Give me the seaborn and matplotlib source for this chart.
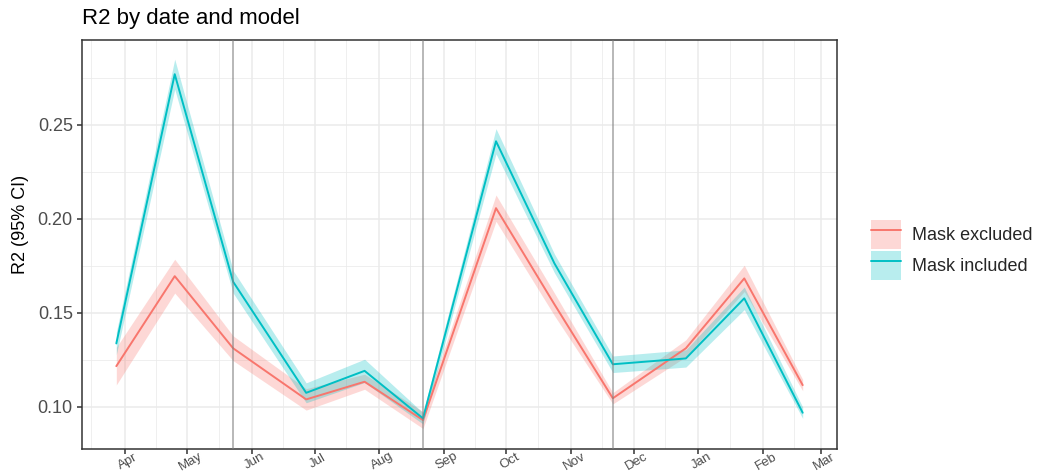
import matplotlib
matplotlib.use("Agg")
import matplotlib.pyplot as plt
import matplotlib.dates as mdates
from matplotlib.patches import Patch
from matplotlib.lines import Line2D
from matplotlib.ticker import FixedLocator, FuncFormatter
import numpy as np
import pandas as pd
import seaborn as sns

# ---- data ----
dates = ["2020-03-28", "2020-04-25", "2020-05-23", "2020-06-27", "2020-07-25", "2020-08-22",
         "2020-09-26", "2020-10-24", "2020-11-21", "2020-12-26", "2021-01-23", "2021-02-20"]
models = ["Mask excluded", "Mask included"]
r2_excluded = [0.1216, 0.1695, 0.1311, 0.1039, 0.1133, 0.0929,
               0.2057, 0.1545, 0.1045, 0.1311, 0.1683, 0.1115]
ci_excluded = [0.0100, 0.0090, 0.0066, 0.0057, 0.0040, 0.0045,
               0.0070, 0.0060, 0.0030, 0.0045, 0.0070, 0.0030]
r2_included = [0.1337, 0.2770, 0.1665, 0.1074, 0.1191, 0.0938,
               0.2413, 0.1763, 0.1226, 0.1257, 0.1577, 0.0968]
ci_included = [0.0060, 0.0080, 0.0060, 0.0053, 0.0062, 0.0030,
               0.0067, 0.0050, 0.0044, 0.0046, 0.0060, 0.0030]
vline_dates = ["2020-05-23", "2020-08-22", "2020-11-21"]
y_ticks = [0.10, 0.15, 0.20, 0.25]
colors = {"Mask excluded": "#F8766D", "Mask included": "#00BFC4"}

frames = []
for m, v, c in [(models[0], r2_excluded, ci_excluded), (models[1], r2_included, ci_included)]:
    v = np.array(v); c = np.array(c)
    frames.append(pd.DataFrame({"date": pd.to_datetime(dates), "r2": v,
                                "lo": v - c, "hi": v + c, "model": m}))
df = pd.concat(frames, ignore_index=True)

sns.set_theme(style="white")
plt.rcParams["font.family"] = ["Liberation Sans", "DejaVu Sans"]

fig = plt.figure(figsize=(10.37, 4.75), dpi=100)
ax = fig.add_axes([82 / 1037, 1 - 449 / 475, (837 - 82) / 1037, (449 - 40) / 475])

# grid
ax.set_axisbelow(True)
ax.grid(which="major", color="#EBEBEB", linewidth=1.1)
ax.grid(which="minor", color="#EBEBEB", linewidth=0.55)

for m in models:
    sub = df[df["model"] == m]
    ax.fill_between(sub["date"], sub["lo"], sub["hi"], color=colors[m], alpha=0.28, linewidth=0)

sns.lineplot(data=df, x="date", y="r2", hue="model", palette=colors, ax=ax,
             legend=False, linewidth=1.4)

for d in vline_dates:
    ax.axvline(pd.Timestamp(d), color="#7F7F7F", alpha=0.7, linewidth=1.1, zorder=3)

# axes limits with ggplot-like expansion
d0 = pd.Timestamp(dates[0]); d1 = pd.Timestamp(dates[-1])
span = d1 - d0
ax.set_xlim(d0 - span * 0.05, d1 + span * 0.05)
ax.set_ylim(0.0775, 0.2952)

ax.xaxis.set_major_locator(mdates.MonthLocator())
ax.xaxis.set_major_formatter(mdates.DateFormatter("%b"))
ax.xaxis.set_minor_locator(mdates.MonthLocator(bymonthday=16))
ax.yaxis.set_major_locator(FixedLocator(y_ticks))
ax.yaxis.set_major_formatter(FuncFormatter(lambda v, p: f"{v:.2f}"))
ax.yaxis.set_minor_locator(FixedLocator([0.125, 0.175, 0.225, 0.275]))

ax.tick_params(axis="both", which="major", length=3.6, width=1.1, color="#333333",
               direction="out", bottom=True, left=True)
ax.tick_params(axis="both", which="minor", length=0)
ax.tick_params(axis="y", labelsize=13, labelcolor="#4D4D4D", pad=3)
ax.tick_params(axis="x", labelsize=9.5, labelcolor="#4D4D4D", pad=1.5)
for lab in ax.get_xticklabels():
    lab.set_rotation(30)
    lab.set_rotation_mode("anchor")
    lab.set_ha("center")
    lab.set_va("top")

for s in ax.spines.values():
    s.set_color("#333333")
    s.set_linewidth(1.1)

ax.set_xlabel("")
ax.set_ylabel("R2 (95% CI)", fontsize=13, color="black")
ax.yaxis.set_label_coords(-0.07, 0.548)

fig.text(82 / 1037, 1 - 24 / 475, "R2 by date and model", fontsize=16,
         ha="left", va="baseline", color="black")

handles = [(Patch(facecolor=colors[m], alpha=0.28, edgecolor="none"),
            Line2D([], [], color=colors[m], linewidth=1.4)) for m in models]
leg = fig.legend(handles, models, loc="center left",
                 bbox_to_anchor=(867 / 1037, 1 - 250 / 475), frameon=False,
                 fontsize=13, handlelength=1.7, handleheight=2.1,
                 labelspacing=0.08, handletextpad=0.6, borderpad=0.2,
                 borderaxespad=0)

fig.savefig("out.png", dpi=100)
